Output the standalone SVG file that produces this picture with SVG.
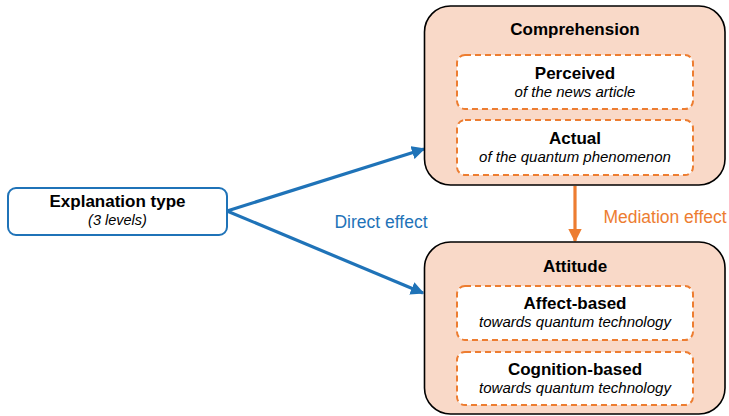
<svg xmlns="http://www.w3.org/2000/svg" width="729" height="416" viewBox="0 0 729 416">
<style>
text{font-family:"Liberation Sans",Arial,sans-serif;text-anchor:middle;fill:#000}
.b{font-weight:bold;font-size:17px}
.i{font-style:italic;font-size:15px}
.outer{fill:#F9D9C8;stroke:#000;stroke-width:1.6}
.inner{fill:#fff;stroke:#ED7D31;stroke-width:2;stroke-dasharray:6 4}
.blue{stroke:#1F73B8;stroke-width:3.2;fill:none}
.orng{stroke:#ED7D31;stroke-width:3.2;fill:none}
</style>
<defs>
<marker id="ab" viewBox="0 0 10 10" refX="9" refY="5" markerWidth="4.2" markerHeight="4.2" orient="auto" markerUnits="strokeWidth"><path d="M0,0L10,5L0,10z" fill="#1F73B8"/></marker>
<marker id="ao" viewBox="0 0 10 10" refX="9" refY="5" markerWidth="4.2" markerHeight="4.2" orient="auto" markerUnits="strokeWidth"><path d="M0,0L10,5L0,10z" fill="#ED7D31"/></marker>
</defs>
<g id="connectors">
<line class="blue" x1="227" y1="211" x2="424" y2="149" marker-end="url(#ab)"/>
<line class="blue" x1="227" y1="211" x2="423" y2="293" marker-end="url(#ab)"/>
<line class="orng" x1="575" y1="186" x2="575" y2="241" marker-end="url(#ao)"/>
<text x="381" y="228" style="font-size:17.5px;fill:#1F73B8">Direct effect</text>
<text x="665" y="223" style="font-size:17.5px;fill:#ED7D31">Mediation effect</text>
</g>
<g id="explanation">
<rect x="8" y="188" width="219" height="47" rx="8" fill="#fff" stroke="#1F73B8" stroke-width="2"/>
<text class="b" x="117.5" y="207">Explanation type</text>
<text class="i" x="117.5" y="225" style="font-size:14.5px">(3 levels)</text>
</g>
<g id="comprehension">
<rect class="outer" x="424.5" y="6" width="300.5" height="179" rx="26"/>
<text class="b" x="575" y="35">Comprehension</text>
</g>
<g id="perceived">
<rect class="inner" x="457" y="55" width="236" height="54" rx="8"/>
<text class="b" x="575" y="79">Perceived</text>
<text class="i" x="575" y="97">of the news article</text>
</g>
<g id="actual">
<rect class="inner" x="457" y="120" width="236" height="55" rx="8"/>
<text class="b" x="575" y="144">Actual</text>
<text class="i" x="575" y="162">of the quantum phenomenon</text>
</g>
<g id="attitude">
<rect class="outer" x="424.5" y="242" width="300.5" height="172" rx="26"/>
<text class="b" x="575" y="272">Attitude</text>
</g>
<g id="affect">
<rect class="inner" x="457" y="286" width="236" height="54" rx="8"/>
<text class="b" x="575" y="309">Affect-based</text>
<text class="i" x="575" y="327">towards quantum technology</text>
</g>
<g id="cognition">
<rect class="inner" x="457" y="352" width="236" height="53" rx="8"/>
<text class="b" x="575" y="375">Cognition-based</text>
<text class="i" x="575" y="393">towards quantum technology</text>
</g>
</svg>
